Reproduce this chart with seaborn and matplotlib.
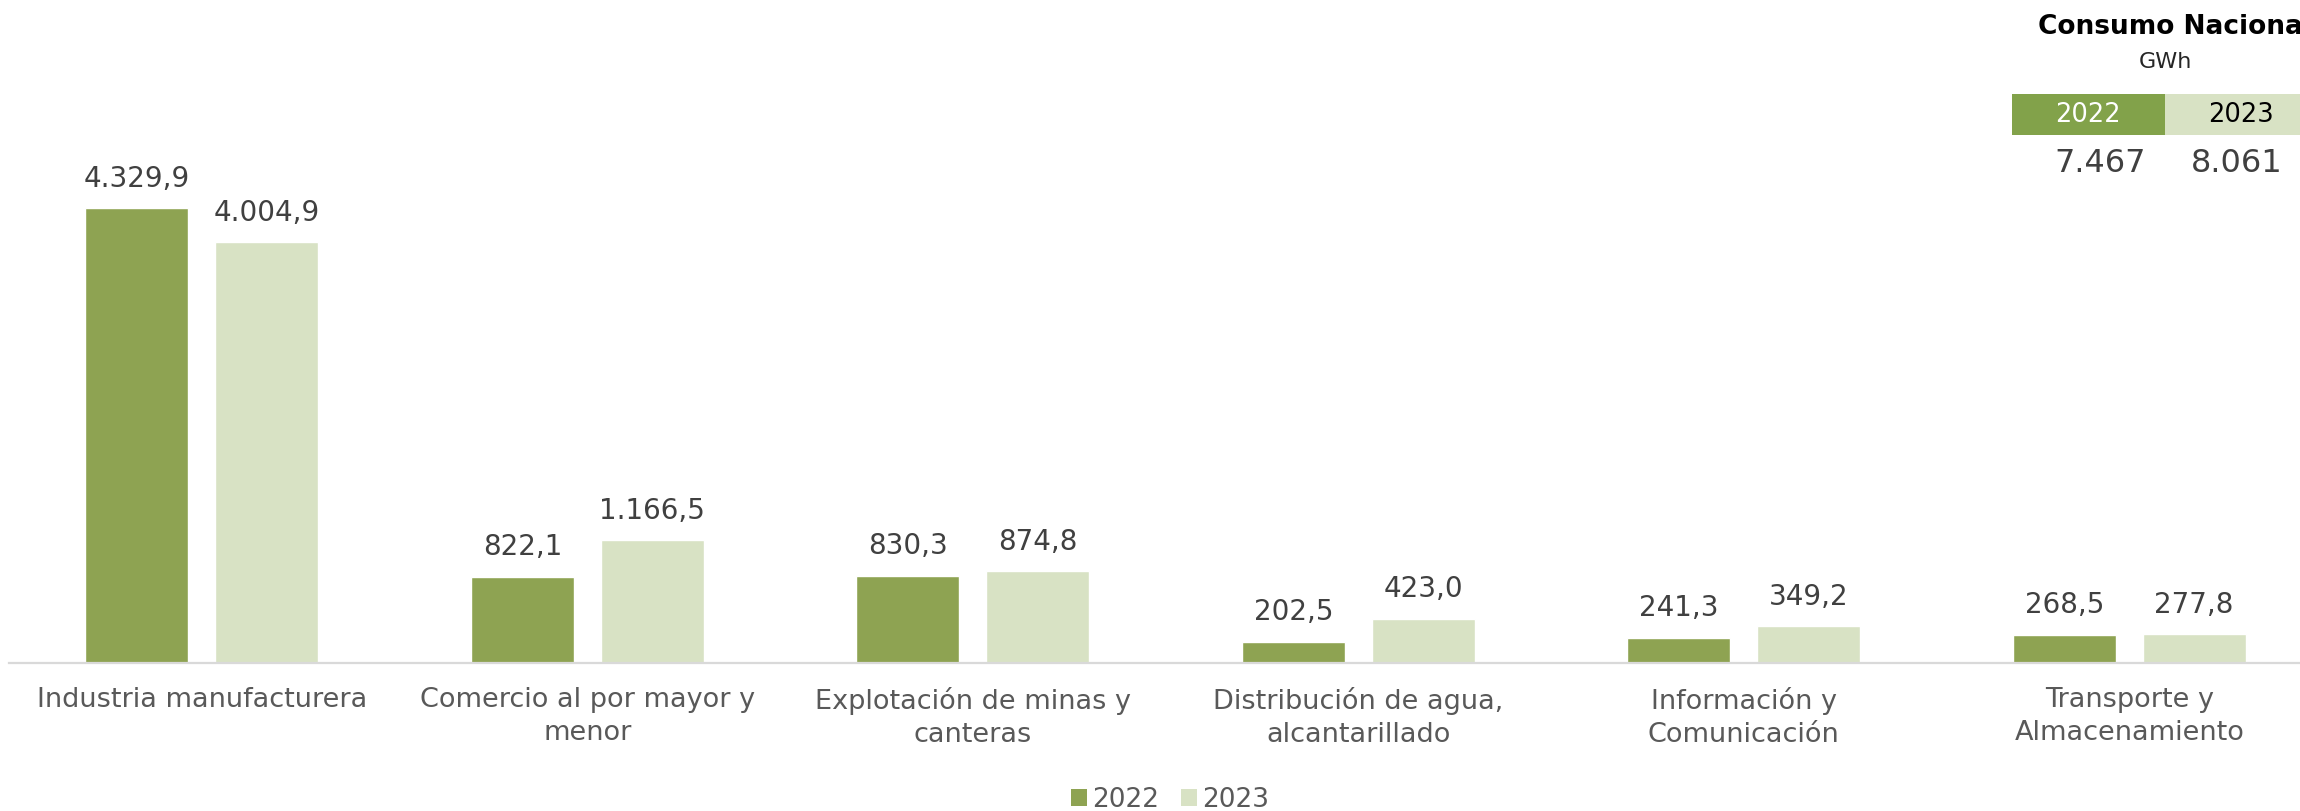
import matplotlib
matplotlib.use("Agg")
import matplotlib.pyplot as plt
from matplotlib.patches import Rectangle, Patch
import seaborn as sns
import pandas as pd

# Consumo de energía eléctrica por sector (GWh)
sectores = [
    "Industria manufacturera",
    "Comercio al por mayor y\nmenor",
    "Explotación de minas y\ncanteras",
    "Distribución de agua,\nalcantarillado",
    "Información y\nComunicación",
    "Transporte y\nAlmacenamiento",
]
valores_2022 = [4329.9, 822.1, 830.3, 202.5, 241.3, 268.5]
valores_2023 = [4004.9, 1166.5, 874.8, 423.0, 349.2, 277.8]
anios = ["2022", "2023"]
totales = ["7.467", "8.061"]

color_2022 = "#8ea352"
color_2023 = "#d8e2c4"
gris_texto = "#595959"

df = pd.DataFrame({
    "Sector": sectores * 2,
    "Año": [anios[0]] * len(sectores) + [anios[1]] * len(sectores),
    "GWh": valores_2022 + valores_2023,
})

sns.set_style("white")
plt.rcParams["font.family"] = ["DejaVu Sans"]

W, H = 2300, 811
fig = plt.figure(figsize=(W / 100, H / 100), dpi=100)
ax = fig.add_axes([9 / W, 0.1825, 2313 / W, 0.6221])

sns.barplot(
    data=df, x="Sector", y="GWh", hue="Año",
    palette=[color_2022, color_2023], width=0.673, gap=0.206,
    saturation=1, legend=False, ax=ax,
)


def formato_es(v):
    s = f"{v:,.1f}"
    return s.replace(",", "X").replace(".", ",").replace("X", ".")


for cont in ax.containers:
    ax.bar_label(cont, labels=[formato_es(b.get_height()) for b in cont],
                 padding=11, fontsize=20, color="#404040")

ax.set_ylim(0, 4800)
ax.set_xlim(-0.5, len(sectores) - 0.5)
ax.set_xlabel("")
ax.set_ylabel("")
ax.set_yticks([])
for side in ["top", "left", "right"]:
    ax.spines[side].set_visible(False)
ax.spines["bottom"].set_color("#d9d9d9")
ax.spines["bottom"].set_linewidth(1.6)
ax.tick_params(axis="x", length=0, pad=17, labelsize=19.5, labelcolor=gris_texto)
for lbl in ax.get_xticklabels():
    lbl.set_linespacing(1.38)
    lbl.set_verticalalignment("top")

# Leyenda inferior
handles = [Patch(facecolor=color_2022, edgecolor="none"),
           Patch(facecolor=color_2023, edgecolor="none")]
leg = fig.legend(handles, anios, loc="center", bbox_to_anchor=(1170 / W, 11 / H),
                 ncol=2, frameon=False, fontsize=19, handlelength=0.6,
                 handleheight=0.6, handletextpad=0.2, columnspacing=0.85,
                 borderpad=0)
for t in leg.get_texts():
    t.set_color(gris_texto)


# Recuadro de consumo nacional
def fx(x):
    return x / W


def fy(y):
    return 1 - y / H


fig.text(fx(2038), fy(27), "Consumo Nacional", ha="left", va="center",
         fontsize=19, fontweight="bold", color="black")
fig.text(fx(2165), fy(62), "GWh", ha="center", va="center",
         fontsize=16, color="#262626")
fig.patches.append(Rectangle((fx(2012), fy(135)), fx(153), 41 / H,
                             transform=fig.transFigure, facecolor="#82a24a",
                             edgecolor="none"))
fig.patches.append(Rectangle((fx(2165), fy(135)), fx(155), 41 / H,
                             transform=fig.transFigure, facecolor=color_2023,
                             edgecolor="none"))
fig.text(fx(2088), fy(115), anios[0], ha="center", va="center",
         fontsize=18.5, color="white")
fig.text(fx(2241), fy(115), anios[1], ha="center", va="center",
         fontsize=18.5, color="black")
fig.text(fx(2100), fy(163), totales[0], ha="center", va="center",
         fontsize=23, color="#404040")
fig.text(fx(2237), fy(163), totales[1], ha="center", va="center",
         fontsize=23, color="#404040")

fig.savefig("out.png", dpi=100)
